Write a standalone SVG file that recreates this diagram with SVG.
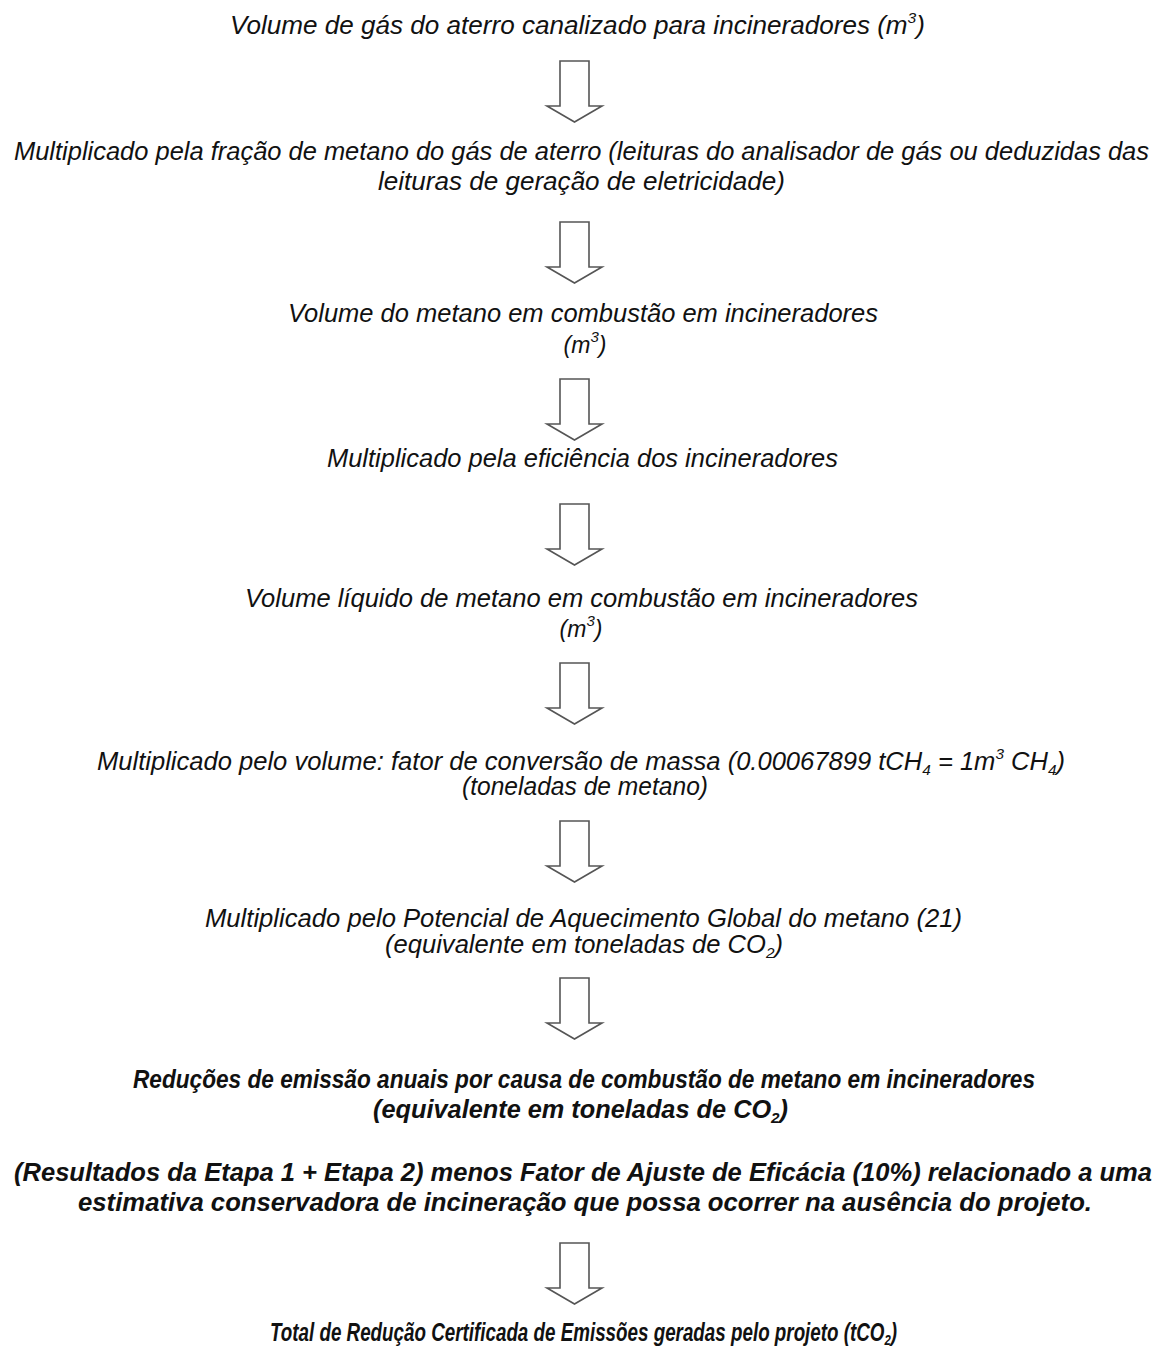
<svg xmlns="http://www.w3.org/2000/svg" width="1165" height="1348" viewBox="0 0 1165 1348">
<defs>
<style>
text{font-family:"Liberation Sans",Arial,sans-serif;font-style:italic;font-size:25px;fill:#111}
.b{font-weight:bold}
.m{text-anchor:middle;font-size:23px}
.arr{fill:#fff;stroke:#555;stroke-width:1.6;stroke-linejoin:miter}
.sup{font-size:15px}
</style>
<path id="arrow" class="arr" d="M560,0 V45 H547 L574.5,61 L602,45 H589 V0 Z"/>
</defs>
<rect width="1165" height="1348" fill="#fff"/>
<g id="n1"><text x="230" y="34" textLength="695" lengthAdjust="spacingAndGlyphs">Volume de gás do aterro canalizado para incineradores (m<tspan class="sup" dy="-11">3</tspan><tspan dy="11">)</tspan></text></g>
<g id="n2">
<text x="14" y="160" textLength="1135" lengthAdjust="spacingAndGlyphs">Multiplicado pela fração de metano do gás de aterro (leituras do analisador de gás ou deduzidas das</text>
<text x="378" y="190" textLength="407" lengthAdjust="spacingAndGlyphs">leituras de geração de eletricidade)</text>
</g>
<g id="n3">
<text x="288" y="322" textLength="590" lengthAdjust="spacingAndGlyphs">Volume do metano em combustão em incineradores</text>
<text class="m" x="585" y="353">(m<tspan class="sup" dy="-11">3</tspan><tspan dy="11">)</tspan></text>
</g>
<g id="n4"><text x="327" y="467" textLength="511" lengthAdjust="spacingAndGlyphs">Multiplicado pela eficiência dos incineradores</text></g>
<g id="n5">
<text x="245" y="607" textLength="673" lengthAdjust="spacingAndGlyphs">Volume líquido de metano em combustão em incineradores</text>
<text class="m" x="581" y="637">(m<tspan class="sup" dy="-11">3</tspan><tspan dy="11">)</tspan></text>
</g>
<g id="n6">
<text x="97" y="770" textLength="968" lengthAdjust="spacingAndGlyphs">Multiplicado pelo volume: fator de conversão de massa (0.00067899 tCH<tspan class="sup" dy="5">4</tspan><tspan dy="-5"> = 1m</tspan><tspan class="sup" dy="-11">3</tspan><tspan dy="11"> CH</tspan><tspan class="sup" dy="5">4</tspan><tspan dy="-5">)</tspan></text>
<text x="462" y="795" textLength="246" lengthAdjust="spacingAndGlyphs">(toneladas de metano)</text>
</g>
<g id="n7">
<text x="205" y="927" textLength="757" lengthAdjust="spacingAndGlyphs">Multiplicado pelo Potencial de Aquecimento Global do metano (21)</text>
<text x="385" y="953" textLength="398" lengthAdjust="spacingAndGlyphs">(equivalente em toneladas de CO<tspan class="sup" dy="5">2</tspan><tspan dy="-5">)</tspan></text>
</g>
<g id="n8">
<text class="b" x="133" y="1088" textLength="902" lengthAdjust="spacingAndGlyphs">Reduções de emissão anuais por causa de combustão de metano em incineradores</text>
<text class="b" x="373" y="1118" textLength="415" lengthAdjust="spacingAndGlyphs">(equivalente em toneladas de CO<tspan class="sup" dy="5">2</tspan><tspan dy="-5">)</tspan></text>
</g>
<g id="n9">
<text class="b" x="14" y="1181" textLength="1138" lengthAdjust="spacingAndGlyphs">(Resultados da Etapa 1 + Etapa 2) menos Fator de Ajuste de Eficácia (10%) relacionado a uma</text>
<text class="b" x="78" y="1211" textLength="1014" lengthAdjust="spacingAndGlyphs">estimativa conservadora de incineração que possa ocorrer na ausência do projeto.</text>
</g>
<g id="n10"><text class="b" x="270" y="1341" textLength="627" lengthAdjust="spacingAndGlyphs">Total de Redução Certificada de Emissões geradas pelo projeto (tCO<tspan class="sup" dy="4">2</tspan><tspan dy="-4">)</tspan></text></g>
<g id="connectors">
<use href="#arrow" y="61"/>
<use href="#arrow" y="222"/>
<use href="#arrow" y="379"/>
<use href="#arrow" y="504"/>
<use href="#arrow" y="663"/>
<use href="#arrow" y="821"/>
<use href="#arrow" y="978"/>
<use href="#arrow" y="1243"/>
</g>
</svg>
